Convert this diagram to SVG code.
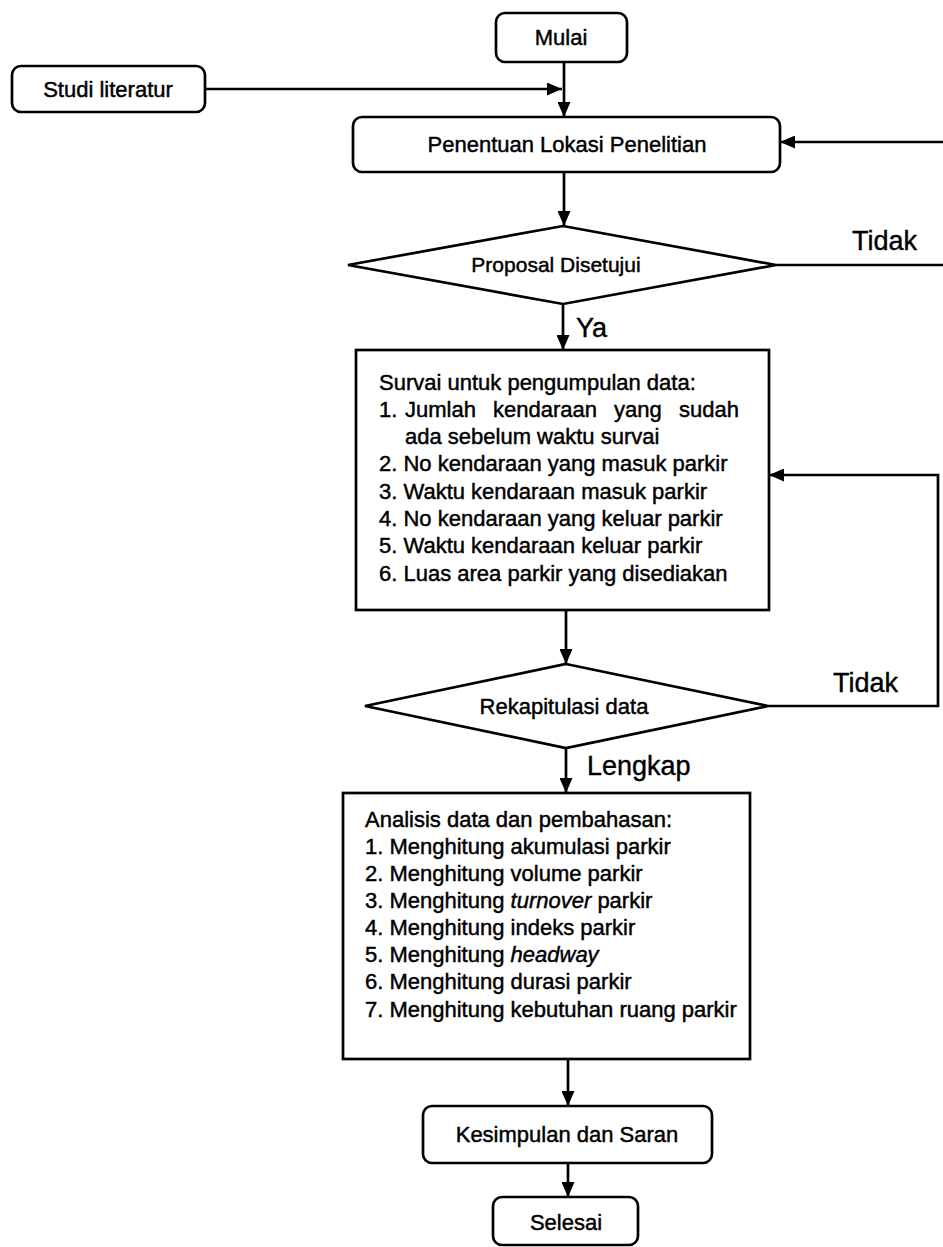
<svg xmlns="http://www.w3.org/2000/svg" width="943" height="1247" viewBox="0 0 943 1247">
<style>
.box{fill:#fff;stroke:#000;stroke-width:2.7}
.t{font-family:"Liberation Sans",Arial,sans-serif;font-size:22px;fill:#000;stroke:#000;stroke-width:0.45}
.c{text-anchor:middle}
.lbl{font-family:"Liberation Sans",Arial,sans-serif;font-size:27px;fill:#000;stroke:#000;stroke-width:0.4}
.ln{fill:none;stroke:#000;stroke-width:2.7}
</style>
<defs>
<marker id="ah" markerUnits="userSpaceOnUse" markerWidth="15" markerHeight="13" refX="15" refY="6.5" orient="auto">
<path d="M0,0 L15,6.5 L0,13 z" fill="#000"/>
</marker>
</defs>
<rect width="943" height="1247" fill="#fff"/>
<g id="connectors">
<path class="ln" d="M564,62 V117" marker-end="url(#ah)"/>
<path class="ln" d="M205,89 H562" marker-end="url(#ah)"/>
<path class="ln" d="M564,172 V226" marker-end="url(#ah)"/>
<path class="ln" d="M776,265 H943"/>
<path class="ln" d="M943,142 H780" marker-end="url(#ah)"/>
<path class="ln" d="M563,304 V350" marker-end="url(#ah)"/>
<path class="ln" d="M566,610 V664" marker-end="url(#ah)"/>
<path class="ln" d="M768,706 H938 V475 H769" marker-end="url(#ah)"/>
<path class="ln" d="M566,748 V793" marker-end="url(#ah)"/>
<path class="ln" d="M568,1059 V1106" marker-end="url(#ah)"/>
<path class="ln" d="M568,1163 V1197" marker-end="url(#ah)"/>
<text class="lbl" x="852" y="250">Tidak</text>
<text class="lbl" x="576" y="337">Ya</text>
<text class="lbl" x="833" y="692">Tidak</text>
<text class="lbl" x="587" y="775">Lengkap</text>
</g>
<g id="mulai">
<rect class="box" x="496" y="13" width="131" height="49" rx="9"/>
<text class="t c" x="561" y="45">Mulai</text>
</g>
<g id="studi">
<rect class="box" x="12" y="66" width="193" height="46" rx="9"/>
<text class="t c" x="108" y="97">Studi literatur</text>
</g>
<g id="penentuan">
<rect class="box" x="353" y="117" width="427" height="55" rx="9"/>
<text class="t c" x="567" y="152">Penentuan Lokasi Penelitian</text>
</g>
<g id="proposal">
<polygon class="box" points="563,226 776,265 563,304 348,265"/>
<text class="t c" x="556" y="272" style="font-size:21px">Proposal Disetujui</text>
</g>
<g id="survai">
<rect class="box" x="356" y="350" width="413" height="260"/>
<text class="t" x="379" y="390">Survai untuk pengumpulan data:</text>
<text class="t" y="417"><tspan x="379">1.</tspan><tspan x="405">Jumlah</tspan><tspan x="493">kendaraan</tspan><tspan x="614">yang</tspan><tspan x="679">sudah</tspan></text>
<text class="t" x="405" y="444">ada sebelum waktu survai</text>
<text class="t" x="379" y="471">2. No kendaraan yang masuk parkir</text>
<text class="t" x="379" y="499">3. Waktu kendaraan masuk parkir</text>
<text class="t" x="379" y="526">4. No kendaraan yang keluar parkir</text>
<text class="t" x="379" y="553">5. Waktu kendaraan keluar parkir</text>
<text class="t" x="379" y="581">6. Luas area parkir yang disediakan</text>
</g>
<g id="rekap">
<polygon class="box" points="566,664 768,706 566,748 365,706"/>
<text class="t c" x="564" y="714">Rekapitulasi data</text>
</g>
<g id="analisis">
<rect class="box" x="343" y="793" width="407" height="266"/>
<text class="t" x="365" y="827">Analisis data dan pembahasan:</text>
<text class="t" x="365" y="854">1. Menghitung akumulasi parkir</text>
<text class="t" x="365" y="881">2. Menghitung volume parkir</text>
<text class="t" x="365" y="908">3. Menghitung <tspan font-style="italic">turnover</tspan> parkir</text>
<text class="t" x="365" y="935">4. Menghitung indeks parkir</text>
<text class="t" x="365" y="962">5. Menghitung <tspan font-style="italic">headway</tspan></text>
<text class="t" x="365" y="989">6. Menghitung durasi parkir</text>
<text class="t" x="365" y="1017">7. Menghitung kebutuhan ruang parkir</text>
</g>
<g id="kesimpulan">
<rect class="box" x="423" y="1106" width="289" height="57" rx="9"/>
<text class="t c" x="567" y="1142">Kesimpulan dan Saran</text>
</g>
<g id="selesai">
<rect class="box" x="493" y="1197" width="145" height="48" rx="9"/>
<text class="t c" x="566" y="1230">Selesai</text>
</g>
</svg>
